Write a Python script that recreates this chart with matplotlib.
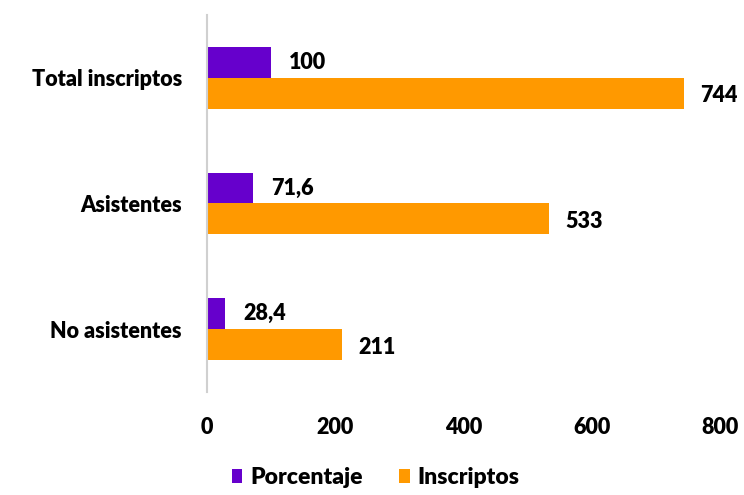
import numpy as np
import matplotlib.pyplot as plt

# data
categories = ["Total inscriptos", "Asistentes", "No asistentes"]
porcentaje = [100, 71.6, 28.4]
inscriptos = [744, 533, 211]
pct_labels = ["100", "71,6", "28,4"]
ins_labels = ["744", "533", "211"]

purple = "#6600CC"
orange = "#FF9900"

plt.rcParams['font.family'] = ['Lato', 'DejaVu Sans']
W = "heavy"

fig = plt.figure(figsize=(7.44, 4.95), dpi=100)
ax = fig.add_axes([0.278, 0.208, 0.690, 0.762])

y = np.arange(len(categories))
h = 0.246

ax.barh(y - h / 2, porcentaje, height=h, color=purple, label="Porcentaje")
ax.barh(y + h / 2, inscriptos, height=h, color=orange, label="Inscriptos")

for yi, v, t in zip(y, porcentaje, pct_labels):
    ax.text(v + 28, yi - h / 2, t, va="center", ha="left", fontsize=15.5, fontweight=W)
for yi, v, t in zip(y, inscriptos, ins_labels):
    ax.text(v + 25, yi + h / 2 + 0.02, t, va="center", ha="left", fontsize=15.5, fontweight=W)

ax.set_xlim(0, 800)
ax.set_ylim(2.5, -0.5)
ax.set_yticks(y)
ax.set_yticklabels(categories, fontsize=15.5, fontweight=W)
ax.set_xticks([0, 200, 400, 600, 800])
ax.set_xticklabels(["0", "200", "400", "600", "800"], fontsize=15.5, fontweight=W)
ax.tick_params(length=0)
ax.tick_params(axis="x", pad=18)
ax.tick_params(axis="y", pad=18)

for s in ["top", "right", "bottom"]:
    ax.spines[s].set_visible(False)
ax.spines["left"].set_color("#d0d0d0")
ax.spines["left"].set_linewidth(1.5)

fig.legend(loc="lower center", bbox_to_anchor=(0.505, -0.028), ncol=2, frameon=False,
           handlelength=0.45, handleheight=0.6, handletextpad=0.35,
           columnspacing=1.6, prop={"weight": W, "size": 16.5})

fig.savefig("out.png", dpi=100)
